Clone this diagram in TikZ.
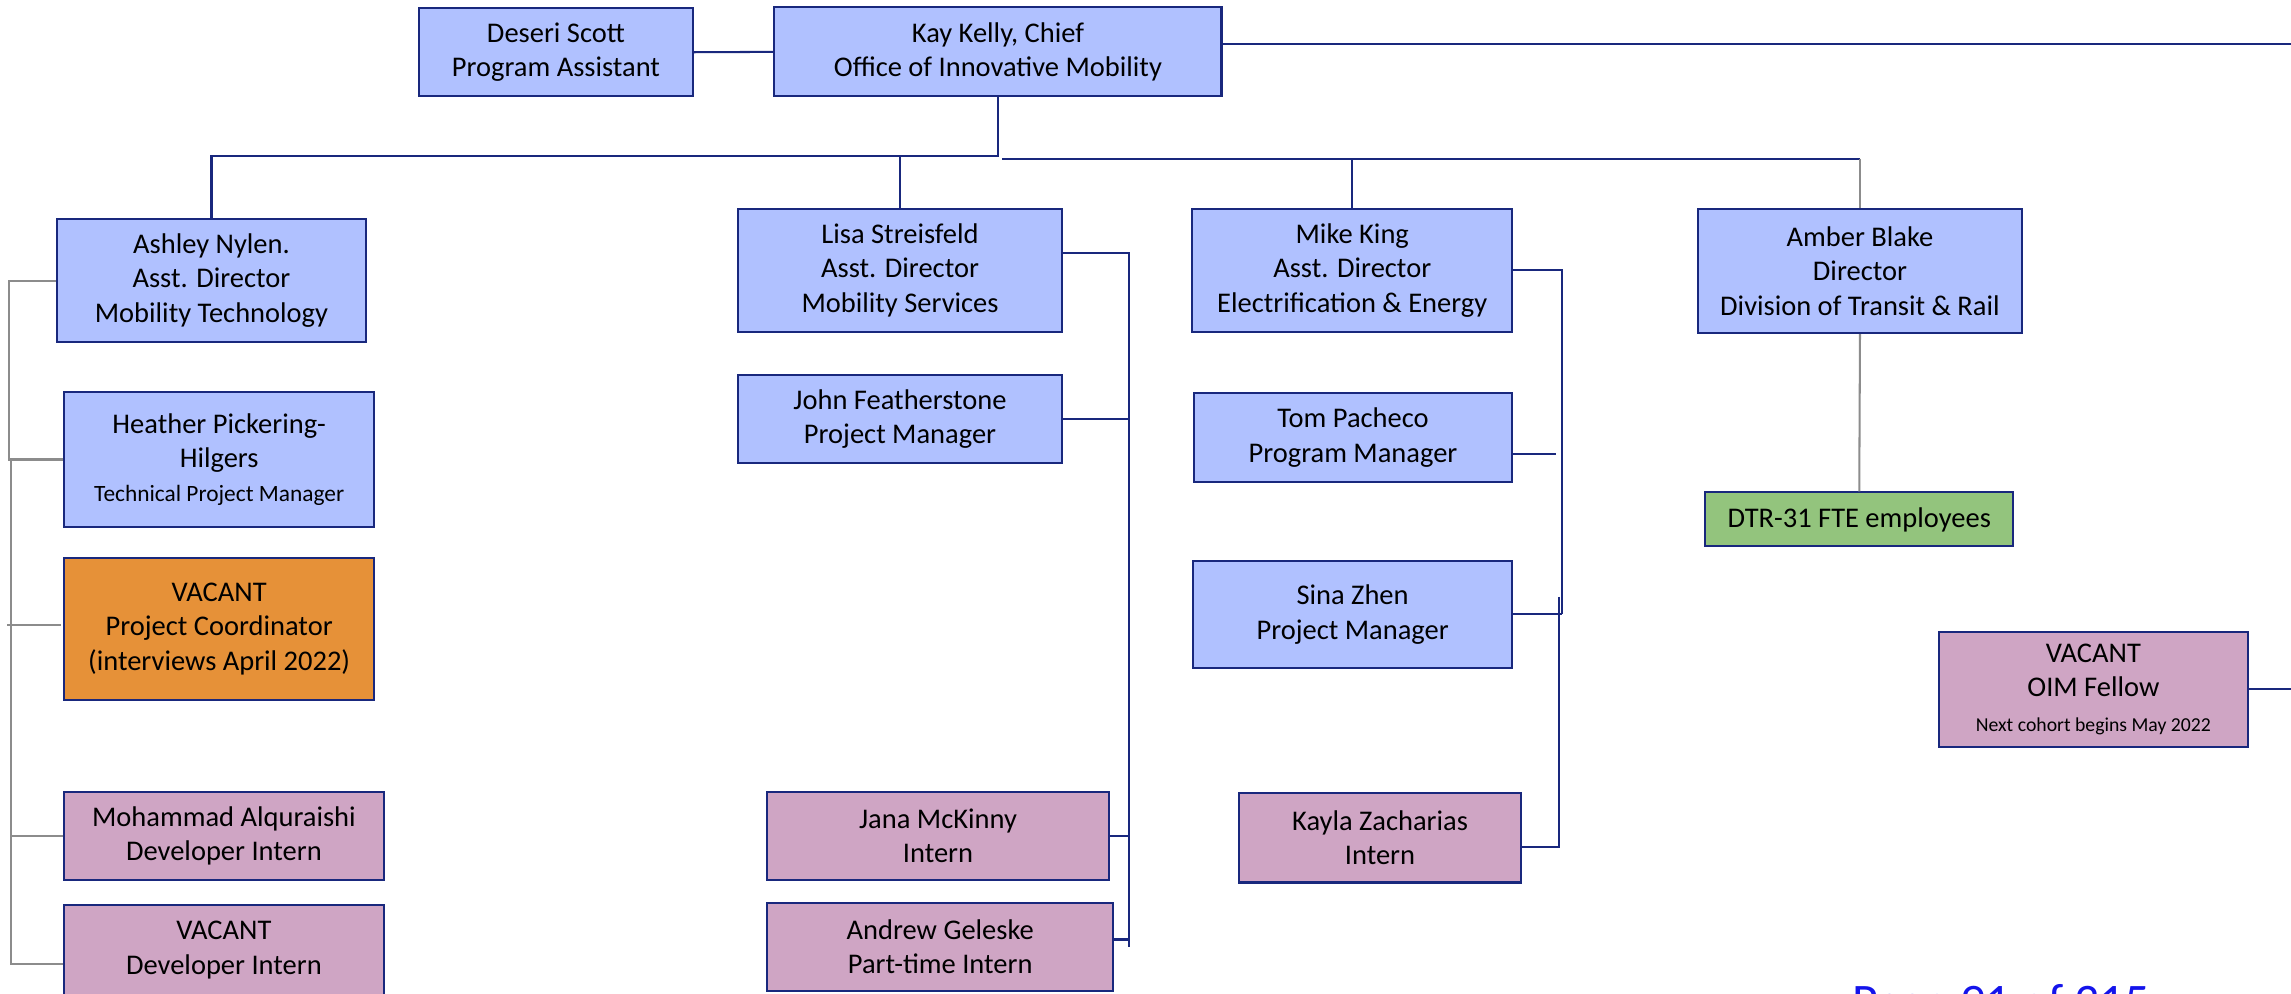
\documentclass[tikz,border=0pt]{standalone}
\usepackage{fontspec}
\setmainfont{Carlito}
\usetikzlibrary{calc}
\definecolor{boxblue}{RGB}{176,193,255}
\definecolor{navy}{RGB}{25,40,125}
\definecolor{vacorange}{RGB}{230,145,56}
\definecolor{mauve}{RGB}{207,165,196}
\definecolor{dtrgreen}{RGB}{147,196,125}
\definecolor{lgray}{RGB}{140,140,140}
\definecolor{pageblue}{RGB}{20,20,235}
\tikzset{
  orgbox/.style={draw=navy, line width=1.4pt, inner sep=0pt, align=center,
    font=\fontsize{19.5}{23.5}\selectfont, text=black},
  bluebox/.style={orgbox, fill=boxblue},
  orangebox/.style={orgbox, fill=vacorange},
  mauvebox/.style={orgbox, fill=mauve},
  greenbox/.style={orgbox, fill=dtrgreen},
  navyline/.style={draw=navy, line width=1.4pt},
  grayline/.style={draw=lgray, line width=1.4pt}
}
\begin{document}
\begin{tikzpicture}[x=1pt,y=-1pt]
\useasboundingbox[fill=white] (0,0) rectangle (1568,680);

% top row
\node[bluebox, minimum width=187pt, minimum height=60.5pt] (deseri) at (380.5,35.75) {Deseri Scott\\Program Assistant};
\node[bluebox, minimum width=306pt, minimum height=61pt] (kay) at (683,35.5) {Kay Kelly, Chief\\Office of Innovative Mobility};

% left column
\node[bluebox, minimum width=211.5pt, minimum height=84pt] (ashley) at (144.75,192) {Ashley Nylen.\\Asst. Director\\Mobility Technology};
\node[bluebox, minimum width=212pt, minimum height=93pt] (heather) at (150,314.5) {Heather Pickering-\\Hilgers\\{\fontsize{16}{18}\selectfont Technical Project Manager}};
\node[orangebox, minimum width=212pt, minimum height=97pt] (pc) at (150,430.5) {VACANT\\Project Coordinator\\(interviews April 2022)};
\node[mauvebox, minimum width=218.5pt, minimum height=60pt] (mohammad) at (153.25,572) {Mohammad Alquraishi\\Developer Intern};
\node[mauvebox, minimum width=218.5pt, minimum height=61.5pt] (vacdi) at (153.25,650.25) {VACANT\\Developer Intern};

% Lisa column
\node[bluebox, minimum width=222pt, minimum height=84pt] (lisa) at (616,185) {Lisa Streisfeld\\Asst. Director\\Mobility Services};
\node[bluebox, minimum width=222pt, minimum height=60.5pt] (john) at (616,286.75) {John Featherstone\\Project Manager};
\node[mauvebox, minimum width=234pt, minimum height=60pt] (jana) at (642,572) {Jana McKinny\\Intern};
\node[mauvebox, minimum width=237pt, minimum height=60pt] (andrew) at (643.5,648) {Andrew Geleske\\Part-time Intern};

% Mike column
\node[bluebox, minimum width=219pt, minimum height=84pt] (mike) at (925.5,185) {Mike King\\Asst. Director\\Electrification \& Energy};
\node[bluebox, minimum width=218pt, minimum height=61pt] (tom) at (926,299.5) {Tom Pacheco\\Program Manager};
\node[bluebox, minimum width=218.5pt, minimum height=73pt] (sina) at (925.75,420.5) {Sina Zhen\\Project Manager};
\node[mauvebox, minimum width=193pt, minimum height=61pt] (kayla) at (944.5,573.5) {Kayla Zacharias\\Intern};

% Amber column
\node[bluebox, minimum width=222pt, minimum height=85pt] (amber) at (1273,185.5) {Amber Blake\\Director\\Division of Transit \& Rail};
\node[greenbox, minimum width=211pt, minimum height=37pt] (dtr) at (1272.5,355.5) {DTR-31 FTE employees};

% OIM fellow
\node[mauvebox, minimum width=211.5pt, minimum height=78.5pt] (oim) at (1432.75,471.75) {VACANT\\OIM Fellow\\{\fontsize{13.5}{16}\selectfont Next cohort begins May 2022}};

% page footer text (cut by the page edge, as in the reference)
\node[anchor=base west, inner sep=0pt, text=pageblue, font=\fontsize{34}{40}\selectfont] (page) at (1268,697) {Page 91 of 315};

% coordinates
\coordinate (bus1) at (0,107);
\coordinate (busR) at (686,108.5);
\coordinate (kayE) at (1570,30);
\coordinate (oimE) at (1570,471.75);
\coordinate (lv) at (773,648);
\coordinate (mv) at (1069,420.5);
\coordinate (kv) at (1067,408.5);
\coordinate (lg1) at (6,0);
\coordinate (lg2) at (7.5,0);
\coordinate (pcs1) at (5,428);
\coordinate (pcs2) at (42,428);
\coordinate (tomE) at (1065,0);

% top connectors
\draw[navyline] (deseri.east) -- (kay.west);
\draw[navyline] (kay.east |- kayE) -- (kayE);
\draw[navyline] (kay.south) -- (kay.south |- bus1) -| (ashley.north);
\draw[navyline] (lisa.north |- bus1) -- (lisa.north);
\draw[navyline] (busR) -- (amber.north |- busR);
\draw[navyline] (mike.north |- busR) -- (mike.north);
\draw[grayline] (amber.north |- busR) -- (amber.north);
\draw[grayline] (amber.south) -- (dtr.north);

% Lisa group
\draw[navyline] ([yshift=12pt]lisa.east) -| (lv);
\draw[navyline] (john.east) -- (john.east -| lv);
\draw[navyline] (jana.east) -- (jana.east -| lv);
\draw[navyline] ([yshift=5pt]andrew.east) -- ([yshift=5pt]andrew.east -| lv);

% Mike group
\draw[navyline] (mike.east) -| (mv);
\draw[navyline] (sina.east) -- (mv);
\draw[navyline] ([yshift=-11.5pt]tom.east) -- ([yshift=-11.5pt]tom.east -| tomE);
\draw[navyline] (kv) |- ([yshift=-6.5pt]kayla.east);

% OIM
\draw[navyline] (oim.east) -- (oimE);

% left gray connectors
\draw[grayline] (ashley.west) -| (lg1 |- heather.west) -- (heather.west);
\draw[grayline] (lg2 |- heather.west) |- ([yshift=-9.75pt]vacdi.west);
\draw[grayline] (lg2 |- mohammad.west) -- (mohammad.west);
\draw[grayline] (pcs1) -- (pcs2);
\end{tikzpicture}
\end{document}
